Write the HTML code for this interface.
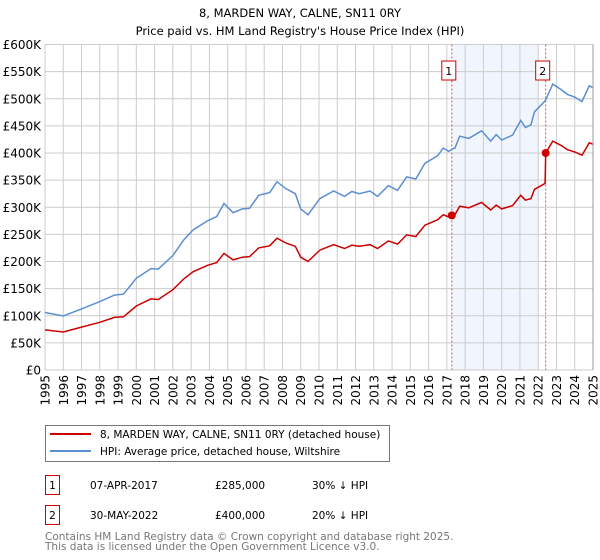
<!DOCTYPE html>
<html><head><meta charset="utf-8"><style>
body{margin:0;background:#fff;font-family:"DejaVu Sans","Liberation Sans",sans-serif;}
#wrap{position:relative;width:600px;height:560px;overflow:hidden;}
svg text{font-family:"DejaVu Sans","Liberation Sans",sans-serif;}
</style></head><body><div id="wrap">
<svg id="c" width="600" height="560"></svg>
</div>
<script>
const years=[1995.0,1996.0,1997.1,1998.0,1998.8,1999.3,2000.0,2000.8,2001.2,2002.0,2002.6,2003.1,2003.9,2004.4,2004.8,2005.3,2005.8,2006.2,2006.7,2007.3,2007.7,2008.2,2008.7,2009.0,2009.4,2010.05,2010.8,2011.4,2011.8,2012.2,2012.8,2013.2,2013.8,2014.3,2014.8,2015.3,2015.8,2016.5,2016.8,2017.1,2017.27,2017.44,2017.7,2018.2,2018.9,2019.4,2019.7,2020.0,2020.6,2021.04,2021.3,2021.6,2021.8,2022.38,2022.41,2022.8,2023.3,2023.6,2024.0,2024.4,2024.8,2025.0];
const hpiValues=[106,99.5,114,126,138,140,169,187,186,211,240,258,275,283,307,290,297,298,322,327,347,334,325,297,286,316,330,320,329,325,330,320,340,331,356,352,381,395,409,403,407,409,431,427,441,422,434,424,433,460,447,452,476,496,498,527,516,508,503,495,524,520];
const priceValues=[74,70,80,88,97,98,118,131,130,148,168,181,193,198,215,203,208,209,225,229,243,234,228,208,200,221,231,224,230,228,231,224,238,232,249,246,267,277,286,282,285,286,302,299,309,295,304,297,303,322,313,316,333,344,400,422,413,406,402,396,419,416];
const yTicks=[0,50,100,150,200,250,300,350,400,450,500,550,600];
const yTickLabels=["£0","£50K","£100K","£150K","£200K","£250K","£300K","£350K","£400K","£450K","£500K","£550K","£600K"];
const xTicks=[1995,1996,1997,1998,1999,2000,2001,2002,2003,2004,2005,2006,2007,2008,2009,2010,2011,2012,2013,2014,2015,2016,2017,2018,2019,2020,2021,2022,2023,2024,2025];
const sales=[{n:"1",year:2017.27,price:285},{n:"2",year:2022.41,price:400}];
const shade=[2017.27,2022.0];

const L=45,R=593,T=44.5,B=370;
const X=y=>L+(y-1995)/(2025-1995)*(R-L);
const Y=v=>B-v/600*(B-T);
const svg=document.getElementById('c');
const NS="http://www.w3.org/2000/svg";
function mk(tag,attrs,parent){const e=document.createElementNS(NS,tag);for(const k in attrs)e.setAttribute(k,attrs[k]);(parent||svg).appendChild(e);return e;}

let t=mk('text',{x:300,y:17,'text-anchor':'middle','font-size':11.5,fill:'#000'});t.textContent="8, MARDEN WAY, CALNE, SN11 0RY";


t=mk('text',{x:300,y:35,'text-anchor':'middle','font-size':11.5,fill:'#000'});t.textContent="Price paid vs. HM Land Registry's House Price Index (HPI)";



let sh=mk('rect',{x:X(shade[0]),y:T,width:X(shade[1])-X(shade[0]),height:B-T,fill:'#eef3fc',opacity:0.8});



yTicks.forEach((v,i)=>{
  let g=mk('line',{x1:L,x2:R,y1:Y(v),y2:Y(v),stroke:'#cccccc','stroke-width':1});
  
  
  let tx=mk('text',{x:41,y:Y(v)+4.5,'text-anchor':'end','font-size':12,fill:'#000'});tx.textContent=yTickLabels[i];
  
  
});
xTicks.forEach(yr=>{
  let g=mk('line',{x1:X(yr),x2:X(yr),y1:T,y2:B,stroke:'#cccccc','stroke-width':1});
  
  
  let tx=mk('text',{x:0,y:0,'text-anchor':'end','font-size':12,fill:'#000',transform:`translate(${X(yr)+4.5},${B+5}) rotate(-90)`});tx.textContent=yr;
  
  
});

sales.forEach(s=>{
  let l=mk('line',{x1:X(s.year),x2:X(s.year),y1:T,y2:B,stroke:'#e05050','stroke-width':1,'stroke-dasharray':'2,2'});
  
  
  let r=mk('rect',{x:X(s.year)-10,y:61,width:14,height:19,fill:'#fff',stroke:'#cc0000','stroke-width':1});
  
  
  let tx=mk('text',{x:X(s.year)-3,y:75,'text-anchor':'middle','font-size':11,fill:'#000'});tx.textContent=s.n;
  
  
});

function path(vals){return years.map((y,i)=>(i?'L':'M')+X(y).toFixed(1)+','+Y(vals[i]).toFixed(1)).join('');}
let p=mk('path',{d:path(hpiValues),fill:'none',stroke:'#5b8fd1','stroke-width':1.5});


p=mk('path',{d:path(priceValues),fill:'none',stroke:'#cc0000','stroke-width':1.5});


sales.forEach(s=>{
  let c=mk('circle',{cx:X(s.year),cy:Y(s.price),r:4,fill:'#cc0000'});
  
  
});
let ax=mk('line',{x1:R,x2:R,y1:T,y2:B,stroke:'#999','stroke-width':1});



// legend
let lg=mk('rect',{x:45.5,y:425.5,width:344,height:36,fill:'#fff',stroke:'#777','stroke-width':1});


[["#cc0000","8, MARDEN WAY, CALNE, SN11 0RY (detached house)",434],["#5b8fd1","HPI: Average price, detached house, Wiltshire",451]].forEach(e=>{
  let l=mk('line',{x1:50,x2:91,y1:e[2],y2:e[2],stroke:e[0],'stroke-width':2});
  
  
  let tx=mk('text',{x:100,y:e[2]+4,'font-size':10.5,fill:'#000'});tx.textContent=e[1];
  
  
});
// table
[["1","07-APR-2017","£285,000","30% ↓ HPI",475],["2","30-MAY-2022","£400,000","20% ↓ HPI",505]].forEach(r=>{
  let b=mk('rect',{x:45.5,y:r[4]+0.5,width:14,height:19,fill:'#fff',stroke:'#cc0000','stroke-width':1});
  
  
  let cols=[[52.5,r[0],'middle'],[90,r[1],'start'],[215,r[2],'start'],[312,r[3],'start']];
  cols.forEach(c=>{let tx=mk('text',{x:c[0],y:r[4]+14,'font-size':10.5,fill:'#000','text-anchor':c[2]});tx.textContent=c[1];
    
    });
});
t=mk('text',{x:45,y:540,'font-size':10.5,fill:'#777'});t.textContent="Contains HM Land Registry data © Crown copyright and database right 2025.";


t=mk('text',{x:45,y:550,'font-size':10.5,fill:'#777'});t.textContent="This data is licensed under the Open Government Licence v3.0.";


</script></body></html>
